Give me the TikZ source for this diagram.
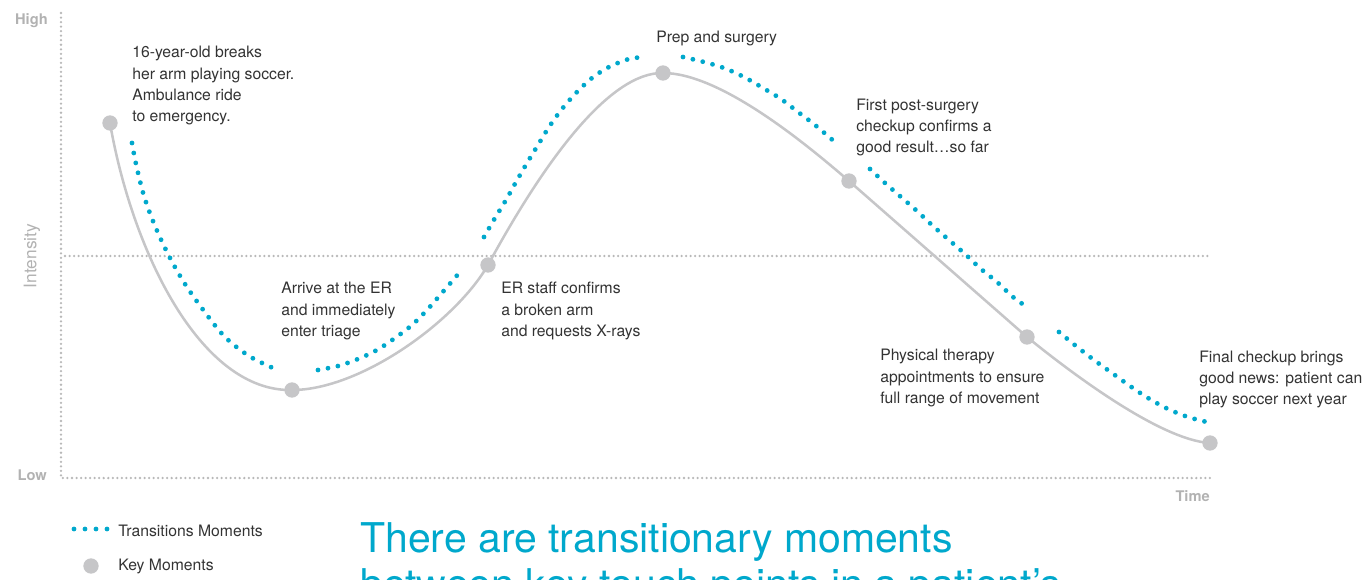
\documentclass[tikz,border=0pt]{standalone}
\usepackage{fontspec}
\setmainfont{TeX Gyre Heros}
\definecolor{tblue}{HTML}{00A8CC}
\definecolor{cgray}{HTML}{C6C6C8}
\definecolor{axgray}{HTML}{B8B8B8}
\definecolor{lblgray}{HTML}{B2B2B2}
\definecolor{txt}{HTML}{333333}
\begin{document}
\begin{tikzpicture}[x=0.75pt,y=-0.75pt,
  keydot/.style={circle,fill=cgray,inner sep=0pt,minimum size=11.5pt},
  trans/.style={tblue,line width=3.6pt,line cap=round,dash pattern=on 0pt off 7.6pt},
  journey/.style={cgray,line width=1.9pt},
  axis/.style={axgray,line width=1.9pt,line cap=round,dash pattern=on 0pt off 3.4pt},
  note/.style={font=\fontsize{11.8}{16.1}\selectfont,text=txt,align=left,inner sep=0pt,anchor=north west},
  axlbl/.style={font=\fontsize{11}{13}\selectfont\bfseries,text=lblgray,inner sep=0pt},
  legend/.style={font=\fontsize{11.8}{13}\selectfont,text=txt,inner sep=0pt,anchor=base west}
]
\clip (0,0) rectangle (1365,579);

% axes
\coordinate (ytop) at (61,13);
\coordinate (origin) at (61,478);
\coordinate (xend) at (1210,478);
\coordinate (mid0) at (65,256);
\coordinate (mid1) at (1209,256);
\draw[axis] (ytop) -- (origin) -- (xend);
\draw[axis] (mid0) -- (mid1);
\node[axlbl,anchor=base east] (high) at (48,24) {High};
\node[axlbl,anchor=base east] (low) at (47,480) {Low};
\node[axlbl,anchor=base east] (time) at (1210,501) {Time};
\node[font=\fontsize{13}{14}\selectfont,text=lblgray,rotate=90,inner sep=0pt] (int) at (32,256) {Intensity};

% key moment positions
\coordinate (c1) at (110,123);
\coordinate (c2) at (292,390);
\coordinate (c3) at (488,265);
\coordinate (c4) at (663,73);
\coordinate (c5) at (849,181);
\coordinate (c6) at (1027,337);
\coordinate (c7) at (1210,443);

% journey curve
\draw[journey] (c1) .. controls (132,250) and (200,392) .. (c2)
  .. controls (360,390) and (455,322) .. (c3)
  .. controls (545,160) and (610,72) .. (c4)
  .. controls (720,73) and (805,143) .. (c5)
  -- (c6)
  .. controls (1070,372) and (1160,440) .. (c7);

% transition moments
\draw[trans] plot[smooth,tension=0.55] coordinates {(132,143) (136,164) (144,196) (155,226) (169,256) (185,284) (204,311) (225,337) (249,356) (273,368)};
\draw[trans] plot[smooth,tension=0.55] coordinates {(318,370) (338,366) (358,359) (377,350) (395,338) (412,325) (427,310) (441,294) (454,279) (459,273)};
\draw[trans] plot[smooth,tension=0.55] coordinates {(484,237) (495,218) (506,200) (516,182) (527,163) (538,145) (549,127) (562,109) (576,93) (592,78) (609,67) (629,59) (645,57)};
\draw[trans] plot[smooth,tension=0.55] coordinates {(683,57) (704,62) (724,68) (744,77) (763,88) (781,99) (798,112) (815,125) (836,143)};
\draw[trans] plot[smooth,tension=0.55] coordinates {(870,169) (885,183) (901,197) (917,211) (933,226) (949,240) (965,254) (981,269) (997,282) (1013,297) (1027,307)};
\draw[trans] plot[smooth,tension=0.55] coordinates {(1059,332) (1076,346) (1094,360) (1112,373) (1130,386) (1148,398) (1168,409) (1188,417) (1207,422)};

% key moments
\node[keydot] (k1) at (c1) {};
\node[keydot] (k2) at (c2) {};
\node[keydot] (k3) at (c3) {};
\node[keydot] (k4) at (c4) {};
\node[keydot] (k5) at (c5) {};
\node[keydot] (k6) at (c6) {};
\node[keydot] (k7) at (c7) {};

% notes
\node[note] (n1) at (132,45.8) {16-year-old breaks\\her arm playing soccer.\\Ambulance ride\\to emergency.};
\node[note] (n2) at (281,281.8) {Arrive at the ER\\and immediately\\enter triage};
\node[note] (n3) at (501,281.8) {ER staff confirms\\a broken arm\\and requests X-rays};
\node[note] (n4) at (656,30.8) {Prep and surgery};
\node[note] (n5) at (856,98.3) {First post-surgery\\checkup confirms a\\good result\ldots so far};
\node[note] (n6) at (880,348.8) {Physical therapy\\appointments to ensure\\full range of movement};
\node[note] (n7) at (1199,350.3) {Final checkup brings\\good news: patient can\\play soccer next year};

% legend
\coordinate (la) at (74,529);
\coordinate (lb) at (107.5,529);
\draw[trans,dash pattern=on 0pt off 8.25pt] (la) -- (lb);
\node[legend] (lt) at (118,536) {Transitions Moments};
\node[keydot] (lk) at (91,566) {};
\node[legend] (lkt) at (118,570) {Key Moments};

% title
\node[font=\fontsize{30.75}{34.5}\selectfont,text=tblue,align=left,inner sep=0pt,anchor=north west] (title) at (360,522) {There are transitionary moments\\between key touch points in a patient’s};
\end{tikzpicture}
\end{document}
